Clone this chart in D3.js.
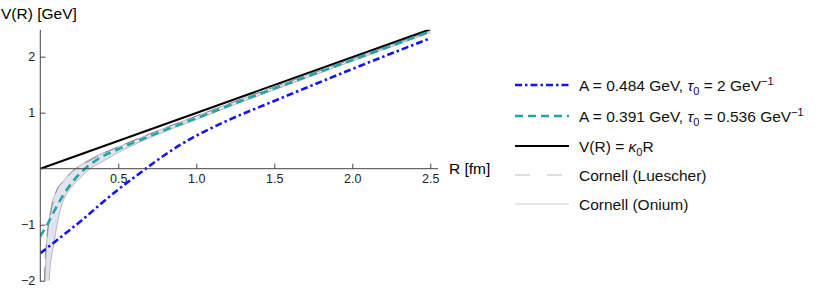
<!DOCTYPE html>
<html>
<head>
<meta charset="utf-8">
<script src="https://cdn.jsdelivr.net/npm/d3@7"></script>
<style>
  body { margin: 0; background: #fff; }
  svg { display: block; font-family: "Liberation Sans", Arial, sans-serif; }
</style>
</head>
<body>
<svg id="chart" width="822" height="289"></svg>
<script>
// values (R in fm, V in GeV)
var linR = [0, 2.5];
var linV = [0, 2.49];

var blueR = [0, 0.1, 0.2, 0.3, 0.4, 0.5, 0.6, 0.7, 0.8, 0.9, 1.0, 1.1, 1.2, 1.5, 2.0, 2.5];
var blueV = [-1.51, -1.29, -1.07, -0.84, -0.60, -0.37, -0.16, 0.05, 0.25, 0.43, 0.59, 0.73, 0.86, 1.21, 1.78, 2.33];

var tealR = [0, 0.05, 0.1, 0.15, 0.2, 0.25, 0.3, 0.4, 0.5, 0.6, 0.7, 0.8, 1.0, 1.25, 1.5, 2.0, 2.5];
var tealV = [-1.21, -0.97, -0.70, -0.46, -0.26, -0.10, 0.03, 0.22, 0.35, 0.47, 0.58, 0.69, 0.90, 1.17, 1.43, 1.94, 2.45];

var luescherR = [0.026, 0.03, 0.04, 0.05, 0.07, 0.1, 0.15, 0.2, 0.25, 0.3, 0.4, 0.5, 0.7, 1.0, 1.5, 2.0, 2.5];
var luescherV = [-2.0, -1.72, -1.29, -1.03, -0.74, -0.42, -0.22, -0.06, 0.04, 0.12, 0.27, 0.39, 0.62, 0.94, 1.46, 1.96, 2.46];

var oniumUpR = [0.032, 0.038, 0.05, 0.056, 0.07, 0.1, 0.15, 0.2, 0.25, 0.3, 0.4, 0.5, 0.7, 1.0, 1.5, 2.0, 2.5];
var oniumUpV = [-2.0, -1.45, -1.1, -0.92, -0.68, -0.42, -0.21, -0.06, 0.05, 0.14, 0.28, 0.39, 0.62, 0.94, 1.46, 1.96, 2.46];
var oniumLoR = [0.056, 0.065, 0.08, 0.1, 0.113, 0.13, 0.15, 0.2, 0.25, 0.3, 0.4, 0.5, 0.7, 1.0, 1.5, 2.0, 2.5];
var oniumLoV = [-2.0, -1.7, -1.45, -1.12, -0.92, -0.72, -0.55, -0.33, -0.18, -0.04, 0.13, 0.29, 0.55, 0.88, 1.41, 1.92, 2.43];

var xTickValues = [0.5, 1.0, 1.5, 2.0, 2.5];
var xTickLabels = ["0.5", "1.0", "1.5", "2.0", "2.5"];
var yTickValues = [-2, -1, 1, 2];
var yTickLabels = ["\u22122", "\u22121", "1", "2"];

var blue = "#1414f0",
    teal = "#20a6a6";

var svg = d3.select("#chart");

var x = d3.scaleLinear().domain([0, 2.55]).range([40.3, 40.3 + 2.55 * 156]);
var y = d3.scaleLinear().domain([-2.02, 2.48]).range([168.7 + 2.02 * 56, 168.7 - 2.48 * 56]);

function pts(rs, vs) { return rs.map(function(r, i) { return [r, vs[i]]; }); }

var line = d3.line()
    .x(function(d) { return x(d[0]); })
    .y(function(d) { return y(d[1]); })
    .curve(d3.curveMonotoneX);

svg.append("clipPath").attr("id", "clip")
  .append("rect")
    .attr("x", x(0)).attr("y", y(2.48))
    .attr("width", x(2.55) - x(0)).attr("height", y(-2.02) - y(2.48));

var plot = svg.append("g").attr("clip-path", "url(#clip)");

// Onium band: upper edge out, lower edge back
var up = pts(oniumUpR, oniumUpV), lo = pts(oniumLoR, oniumLoV);
var bandPath = line(up) + "L" + line(lo.slice().reverse()).slice(1) + "Z";
plot.append("path")
    .attr("d", bandPath)
    .attr("fill", "#e3e3f0")
    .attr("stroke", "none");

[up, lo].forEach(function(p) {
  plot.append("path")
      .attr("d", line(p))
      .attr("fill", "none")
      .attr("stroke", "#a8a8b0")
      .attr("stroke-width", 0.8);
});

plot.append("path")
    .attr("d", line(pts(luescherR, luescherV)))
    .attr("fill", "none")
    .attr("stroke", "#8a8a8a")
    .attr("stroke-width", 1)
    .attr("stroke-dasharray", "14,8");

plot.append("path")
    .attr("d", line(pts(linR, linV)))
    .attr("fill", "none")
    .attr("stroke", "#000")
    .attr("stroke-width", 2);

plot.append("path")
    .attr("d", line(pts(tealR, tealV)))
    .attr("fill", "none")
    .attr("stroke", teal)
    .attr("stroke-width", 2.6)
    .attr("stroke-dasharray", "8,5");

plot.append("path")
    .attr("d", line(pts(blueR, blueV)))
    .attr("fill", "none")
    .attr("stroke", blue)
    .attr("stroke-width", 2.6)
    .attr("stroke-dasharray", "7,3,2.5,3");

// axes, Mathematica style: ticks pointing inward
var axisColor = "#444";
var minorX = d3.range(0.1, 2.55, 0.1).filter(function(v) { return Math.abs(v * 2 - Math.round(v * 2)) > 1e-6; });
var minorY = d3.range(-2, 2.5, 0.2).filter(function(v) { return Math.abs(v - Math.round(v)) > 1e-6; });

var gx = svg.append("g").attr("transform", "translate(0," + y(0) + ")");
gx.call(d3.axisBottom(x).tickValues(minorX).tickSize(-3).tickFormat(""));
gx.call(d3.axisBottom(x).tickValues(xTickValues).tickSize(-5).tickPadding(5)
    .tickFormat(function(d, i) { return xTickLabels[i]; }));

var gy = svg.append("g").attr("transform", "translate(" + x(0) + ",0)");
gy.call(d3.axisLeft(y).tickValues(minorY).tickSize(-3).tickFormat(""));
gy.call(d3.axisLeft(y).tickValues(yTickValues).tickSize(-5).tickPadding(5)
    .tickFormat(function(d, i) { return yTickLabels[i]; }));

gx.selectAll(".domain").remove();
gy.selectAll(".domain").remove();
svg.append("line").attr("x1", x(0)).attr("x2", x(2.55)).attr("y1", y(0)).attr("y2", y(0))
    .attr("stroke", axisColor).attr("stroke-width", 1);
svg.append("line").attr("x1", x(0)).attr("x2", x(0)).attr("y1", y(-2.02)).attr("y2", y(2.48))
    .attr("stroke", axisColor).attr("stroke-width", 1);
svg.selectAll(".tick line").attr("stroke", axisColor);
svg.selectAll(".tick text")
    .attr("font-family", "Liberation Sans, Arial, sans-serif")
    .attr("font-size", 12.5)
    .attr("fill", "#222");

svg.append("text")
    .attr("x", 1).attr("y", 19)
    .attr("font-size", 15.5)
    .text("V(R) [GeV]");

svg.append("text")
    .attr("x", 449).attr("y", y(0))
    .attr("dy", "0.35em")
    .attr("font-size", 15.5)
    .text("R [fm]");

// legend
var legendRows = [
  { color: blue, width: 2.6, dash: "7,3,2.5,3",
    parts: [["A = 0.484 GeV, "], ["\u03c4", "it"], ["0", "sub"], [" = 2 GeV"], ["\u22121", "sup"]] },
  { color: teal, width: 2.6, dash: "8,5",
    parts: [["A = 0.391 GeV, "], ["\u03c4", "it"], ["0", "sub"], [" = 0.536 GeV"], ["\u22121", "sup"]] },
  { color: "#000", width: 2, dash: null,
    parts: [["V(R) = "], ["\u03ba", "it"], ["0", "sub"], ["R"]] },
  { color: "#bdbdbd", width: 1.2, dash: "15,17",
    parts: [["Cornell (Luescher)"]] },
  { color: "#c8c8c8", width: 0.9, dash: null,
    parts: [["Cornell (Onium)"]] }
];
var legendY = [85, 116, 146, 175, 204];

var legend = svg.append("g");
legendRows.forEach(function(row, i) {
  var ly = legendY[i];
  legend.append("line")
      .attr("x1", 515).attr("x2", 569).attr("y1", ly).attr("y2", ly)
      .attr("stroke", row.color)
      .attr("stroke-width", row.width)
      .attr("stroke-dasharray", row.dash);
  var t = legend.append("text")
      .attr("x", 579).attr("y", ly + 5.5)
      .attr("font-size", 15.5)
      .attr("fill", "#111");
  var shift = 0;
  row.parts.forEach(function(p) {
    var s = t.append("tspan").text(p[0]);
    var target = 0;
    if (p[1] === "sub") { target = 4; s.attr("font-size", 11); }
    if (p[1] === "sup") { target = -6; s.attr("font-size", 11); }
    if (p[1] === "it") s.attr("font-style", "italic");
    if (target !== shift) { s.attr("dy", target - shift); shift = target; }
  });
});
</script>
</body>
</html>
